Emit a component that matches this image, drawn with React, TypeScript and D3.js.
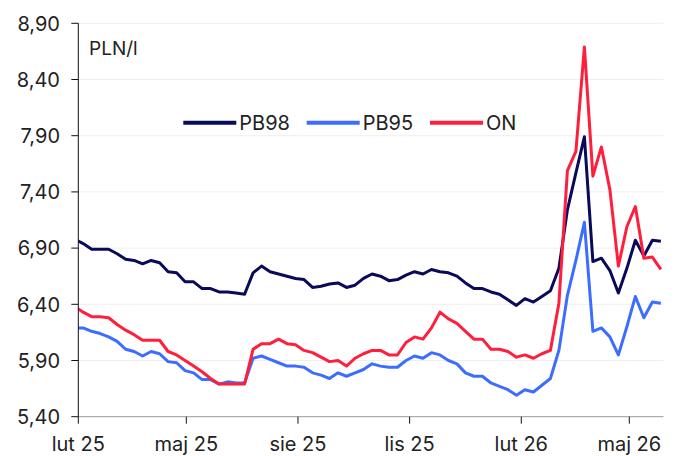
import React from "react";
import * as d3 from "d3";

const FIRST_WEEK = "2025-01-29"; // weekly (Wednesday) readings
const pb98 = [6.98, 6.94, 6.89, 6.89, 6.89, 6.85, 6.80, 6.79, 6.76, 6.79, 6.77, 6.69, 6.68, 6.60, 6.60, 6.54, 6.54, 6.51, 6.51, 6.50, 6.49,
  6.68, 6.74, 6.69, 6.67, 6.65, 6.63, 6.62, 6.55, 6.56, 6.58, 6.59, 6.55, 6.57, 6.63, 6.67, 6.65, 6.61, 6.62, 6.66,
  6.69, 6.67, 6.71, 6.69, 6.68, 6.65, 6.59, 6.54, 6.54, 6.51, 6.49, 6.44, 6.39, 6.45, 6.42, 6.47, 6.52, 6.72, 7.24, 7.57, 7.89,
  6.78, 6.81, 6.70, 6.50, 6.72, 6.97, 6.83, 6.97, 6.96];
const pb95 = [6.19, 6.19, 6.16, 6.14, 6.11, 6.07, 6.00, 5.98, 5.94, 5.98, 5.96, 5.89, 5.88, 5.81, 5.79, 5.73, 5.73, 5.69, 5.71, 5.70, 5.70,
  5.92, 5.94, 5.91, 5.88, 5.85, 5.85, 5.84, 5.79, 5.77, 5.74, 5.79, 5.76, 5.79, 5.82, 5.87, 5.85, 5.84, 5.84, 5.90,
  5.94, 5.92, 5.97, 5.95, 5.90, 5.87, 5.79, 5.76, 5.76, 5.70, 5.67, 5.64, 5.59, 5.64, 5.62, 5.68, 5.74, 5.99, 6.48, 6.79, 7.13,
  6.16, 6.19, 6.11, 5.95, 6.20, 6.47, 6.28, 6.42, 6.41];
const on = [6.38, 6.33, 6.29, 6.29, 6.28, 6.22, 6.17, 6.13, 6.08, 6.08, 6.08, 5.98, 5.95, 5.90, 5.85, 5.80, 5.74, 5.69, 5.69, 5.69, 5.69,
  6.00, 6.05, 6.05, 6.09, 6.05, 6.04, 5.99, 5.97, 5.93, 5.89, 5.90, 5.85, 5.92, 5.96, 5.99, 5.99, 5.95, 5.95, 6.06,
  6.11, 6.09, 6.19, 6.33, 6.27, 6.23, 6.16, 6.09, 6.09, 6.00, 6.00, 5.98, 5.93, 5.95, 5.92, 5.96, 5.99, 6.41, 7.59, 7.76, 8.69,
  7.54, 7.80, 7.42, 6.74, 7.09, 7.27, 6.81, 6.82, 6.71];

const seriesNames = ["PB98", "PB95", "ON"];
const seriesColors = ["#0a0a5a", "#3d6dff", "#ff1f3d"];
const yTicks = [5.4, 5.9, 6.4, 6.9, 7.4, 7.9, 8.4, 8.9];
const xTickDates = ["2025-02-01", "2025-05-01", "2025-08-01", "2025-11-01", "2026-02-01", "2026-05-01"];
const xTickLabels = ["lut 25", "maj 25", "sie 25", "lis 25", "lut 26", "maj 26"];
const unitLabel = "PLN/l";

const W = 680, H = 456;
const L = 78.3, R = 663.5, T = 23.3, B = 416.7;
const FONT = "Inter, 'DejaVu Sans', sans-serif";

export default function App() {
  const parse = (s: string) => { const [y, m, d] = s.split("-").map(Number); return new Date(y, m - 1, d); };
  const start = parse(FIRST_WEEK);
  const dates = pb98.map((_, i) => d3.timeDay.offset(start, i * 7));
  const x = d3.scaleTime().domain([parse(xTickDates[0]), parse(xTickDates[5])]).range([L, 629.3]);
  const y = d3.scaleLinear().domain([5.4, 8.9]).range([B, T]);
  const series = [pb98, pb95, on];
  const line = d3.line<number>().x((_, i) => x(dates[i])).y((v) => y(v)).curve(d3.curveLinear);
  const fmt = (v: number) => v.toFixed(2).replace(".", ",");
  const legendX = [183.3, 306.7, 430];

  return (
    <svg width={W} height={H} style={{ position: "absolute", left: 0, top: 0, background: "#fff" }} fontFamily={FONT}>
      <defs>
        <clipPath id="plot"><rect x={L} y={0} width={R - L} height={H} /></clipPath>
      </defs>
      {yTicks.slice(1).map((t) => (
        <line key={t} x1={L} x2={R} y1={y(t)} y2={y(t)} stroke="#efefef" strokeWidth={1} />
      ))}
      <g clipPath="url(#plot)">
        {series.map((s, i) => (
          <path key={i} d={line(s) || ""} fill="none" stroke={seriesColors[i]} strokeWidth={3} strokeLinejoin="round" />
        ))}
      </g>
      <line x1={L} x2={R} y1={B} y2={B} stroke="#9a9a9a" strokeWidth={1} />
      <line x1={L} x2={L} y1={T} y2={B} stroke="#111" strokeWidth={1} />
      {yTicks.map((t) => (
        <g key={t}>
          <line x1={L - 7} x2={L} y1={y(t)} y2={y(t)} stroke="#111" />
          <text x={60} y={y(t)} dy="0.36em" textAnchor="end" fontSize={20} fill="#222">{fmt(t)}</text>
        </g>
      ))}
      {xTickDates.map((d, i) => (
        <g key={d}>
          <line x1={x(parse(d))} x2={x(parse(d))} y1={B} y2={B + 7} stroke="#111" />
          <text x={x(parse(d))} y={451} textAnchor="middle" fontSize={20} fill="#222">{xTickLabels[i]}</text>
        </g>
      ))}
      <text x={89} y={55} fontSize={19} fill="#222">{unitLabel}</text>
      {seriesNames.map((n, i) => (
        <g key={n}>
          <line x1={legendX[i]} x2={legendX[i] + 53} y1={122.7} y2={122.7} stroke={seriesColors[i]} strokeWidth={4} />
          <text x={legendX[i] + 56} y={129.5} fontSize={20} fill="#222">{n}</text>
        </g>
      ))}
    </svg>
  );
}
